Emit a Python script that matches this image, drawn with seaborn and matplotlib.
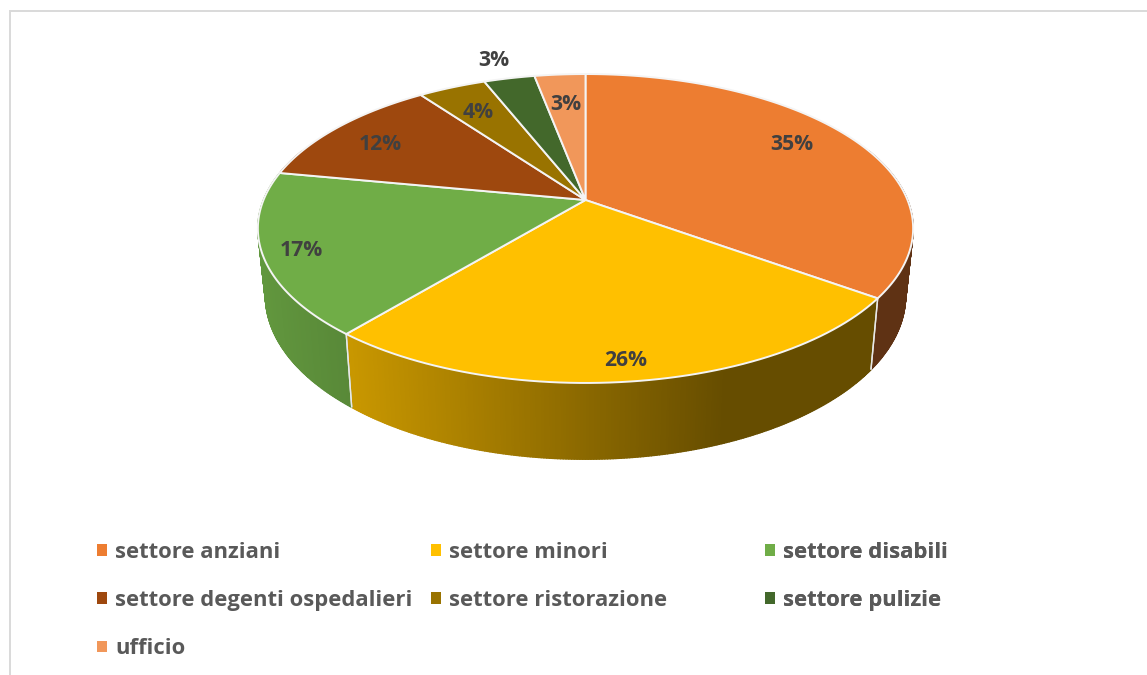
import numpy as np
import matplotlib
matplotlib.use("Agg")
import matplotlib.pyplot as plt
import seaborn as sns
from matplotlib.path import Path
from matplotlib.patches import Patch
from matplotlib.transforms import Transform, Affine2D
from matplotlib.collections import PolyCollection

categories = ["settore anziani", "settore minori", "settore disabili",
              "settore degenti ospedalieri", "settore ristorazione",
              "settore pulizie", "ufficio"]
values = [35, 26, 17, 12, 4, 3, 3]
hex_colors = ["#ED7D31", "#FFC000", "#70AD47", "#9E480E", "#997300", "#43682B", "#F1975A"]
label_xy = [(792, 145), (626, 361), (301, 250), (380, 144), (478, 112), (494, 60), (566, 104)]

sns.set_theme(style="white")
plt.rcParams["font.family"] = ["Open Sans", "DejaVu Sans"]
palette = sns.color_palette(hex_colors)


class Perspective(Transform):
    """Tilted-disc view: unit-circle pie coordinates to pixel coordinates."""
    input_dims = output_dims = 2
    is_separable = False
    has_inverse = False

    def __init__(self, cx, cy, rx, ry, k):
        super().__init__()
        self.p = (cx, cy, rx, ry, k)

    def transform_non_affine(self, xy):
        cx, cy, rx, ry, k = self.p
        xy = np.asarray(xy, float)
        w = 1 + k * xy[:, 1]
        return np.column_stack([cx + rx * xy[:, 0] / w, cy - ry * xy[:, 1] / w])

    def transform_path_non_affine(self, path):
        polys = path.transformed(Affine2D().scale(2000)).to_polygons(closed_only=True)
        pts = np.asarray(polys[0]) / 2000
        return Path(self.transform_non_affine(pts), closed=True)


top = Perspective(585.5, 200, 322, 149.2, 0.1845)
bottom = Perspective(585.5, 265.5, 322 * 0.977, 158.0, 0.1845)

fig = plt.figure(figsize=(11.47, 6.75), dpi=100, facecolor="white")
ax = fig.add_axes([0, 0, 1, 1])

# top faces
wedges, _ = ax.pie(values, colors=palette, startangle=90, counterclock=False,
                   wedgeprops=dict(edgecolor="#F4F4F4", linewidth=1.4, zorder=5))
ax.set_aspect("auto")
ax.set_xlim(0, 1147)
ax.set_ylim(675, 0)
ax.axis("off")
for w in wedges:
    w.set_transform(top + ax.transData)
    w.set_clip_on(False)


def shade(x):
    return np.interp(x, [260, 345, 725], [0.87, 0.79, 0.40])


# side wall, built from the same slice shares
edges = np.cumsum([0] + values) / sum(values) * 2 * np.pi
for i, col in enumerate(palette):
    th = np.linspace(edges[i], edges[i + 1], max(int((edges[i + 1] - edges[i]) * 140), 2))
    th = th[np.cos(th) < 0.35]
    if len(th) < 2:
        continue
    unit = np.column_stack([np.sin(th), np.cos(th)])
    a = top.transform_non_affine(unit)
    b = bottom.transform_non_affine(unit)
    quads = [[a[j], a[j + 1], b[j + 1], b[j]] for j in range(len(th) - 1)]
    f = shade((a[:-1, 0] + a[1:, 0]) / 2)
    cols = np.outer(f, np.array(col))
    ax.add_collection(PolyCollection(quads, facecolors=cols, edgecolors=cols, linewidths=1.0, zorder=2))
    for end in (0, -1):
        if abs(th[end] - edges[i if end == 0 else i + 1]) < 1e-9:
            ax.plot([a[end, 0], b[end, 0]], [a[end, 1], b[end, 1]], color="#E8E8E8", lw=1.0,
                    zorder=3, solid_capstyle="butt")

# data labels
for v, (x, y) in zip(values, label_xy):
    ax.text(x, y, f"{v}%", ha="center", va="center", fontsize=15.2, fontweight="bold",
            color="#404040", zorder=6)

# legend columns
F = 15.8
fpx = F * 100 / 72
columns = [(96.5, [0, 3, 6]), (430.5, [1, 4]), (764.5, [2, 5])]
for x0, idx in columns:
    leg = ax.legend(handles=[Patch(facecolor=palette[i], edgecolor="none", label=categories[i]) for i in idx],
                    loc="upper left", bbox_to_anchor=(x0, 541.5), bbox_transform=ax.transData,
                    frameon=False, borderpad=0, borderaxespad=0,
                    prop=dict(family="Open Sans", weight="bold", size=F),
                    labelcolor="#595959", handlelength=10 / fpx, handleheight=10 / fpx,
                    handletextpad=8.5 / fpx, labelspacing=1.25)
    ax.add_artist(leg)

# chart frame
ax.plot([10, 10, 1147], [675, 10.5, 10.5], color="#D9D9D9", lw=1.4, zorder=1, solid_joinstyle="miter")

fig.savefig("out.png", dpi=100)
